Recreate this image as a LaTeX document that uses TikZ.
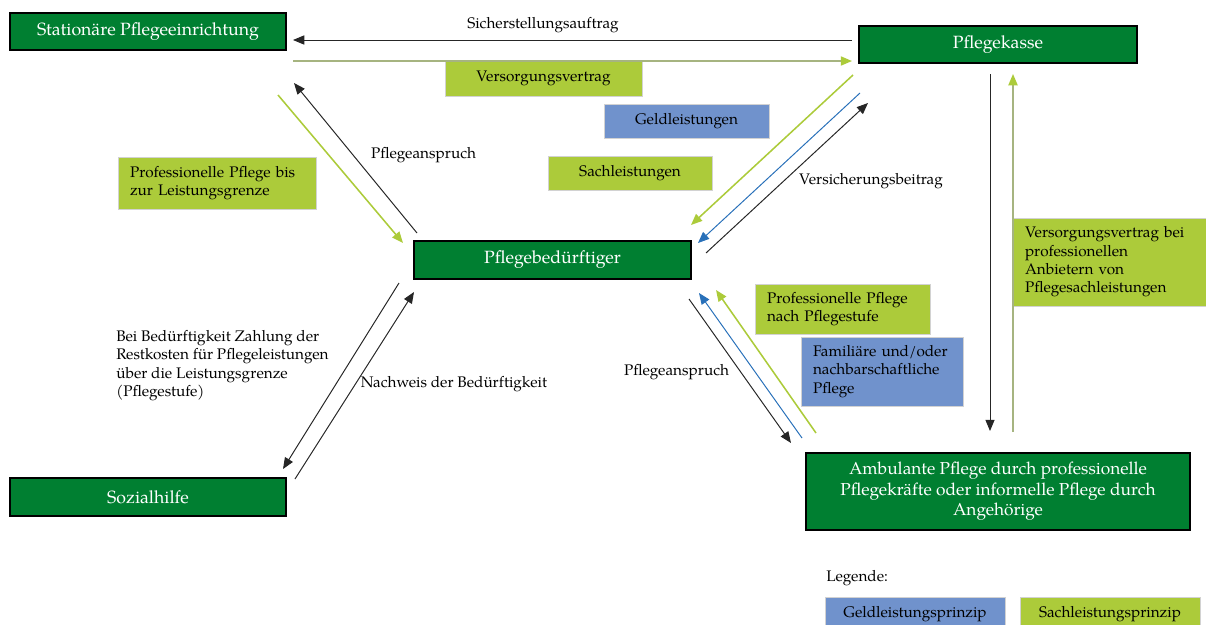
\documentclass[tikz,border=0pt]{standalone}
\usepackage{fontspec}
\setmainfont{TeX Gyre Pagella}
\usetikzlibrary{arrows.meta}

\definecolor{dunkelgruen}{RGB}{0,127,49}
\definecolor{hellgruen}{RGB}{172,203,58}
\definecolor{taubenblau}{RGB}{112,146,204}
\definecolor{linienblau}{RGB}{40,112,185}
\definecolor{olivgrau}{RGB}{166,180,128}

\begin{document}
\begin{tikzpicture}[
  x=0.025cm,
  y=-0.025cm,
  spitze/.tip={Triangle[length=8pt,width=6.5pt]},
  haupt/.style 2 args={
    draw=black,
    line width=1.3pt,
    fill=dunkelgruen,
    text=white,
    inner sep=0pt,
    align=center,
    font=\fontsize{12.6}{14.5}\selectfont,
    minimum width=#1*0.025cm,
    minimum height=#2*0.025cm
  },
  feld/.style={
    draw=gray!35,
    line width=0.5pt,
    fill=#1,
    inner ysep=0pt,
    font=\fontsize{10.9}{13}\selectfont
  },
  mitte/.style 2 args={
    inner xsep=0pt,
    align=center,
    minimum width=#1*0.025cm,
    minimum height=#2*0.025cm
  },
  links/.style 2 args={
    inner xsep=0.3cm,
    align=left,
    text width=(#1-24)*0.025cm,
    minimum height=#2*0.025cm
  },
  beschriftung/.style={
    inner sep=0pt,
    font=\fontsize{10.9}{13.2}\selectfont
  },
  pfeil/.style={
    draw=#1,
    line width=0.7pt,
    -{spitze[color=#1]}
  },
  breitpfeil/.style 2 args={
    draw=#1,
    line width=1.1pt,
    -{spitze[color=#2]}
  }
]
  \useasboundingbox (0,0) rectangle (1206,625);

  % Akteure
  \node[haupt={276}{37}] (stat) at (148,31.5) {Stationäre Pflegeeinrichtung};
  \node[haupt={278}{37}] (kasse) at (998,44.5) {Pflegekasse};
  \node[haupt={277}{38}] (beduerftig) at (552.5,260) {Pflegebedürftiger};
  \node[haupt={276}{38}] (sozial) at (148,497) {Sozialhilfe};
  \node[haupt={384}{77}, font=\fontsize{12.3}{14.5}\selectfont] (ambulant) at (998,491.5)
    {Ambulante Pflege durch professionelle\\Pflegekräfte oder informelle Pflege durch\\Angehörige};

  % Leistungsfelder
  \node[feld=hellgruen, mitte={197}{35}] (vv) at (543.5,78.5) {Versorgungsvertrag};
  \node[feld=taubenblau, mitte={165}{34}] (geld) at (686.5,121) {Geldleistungen};
  \node[feld=hellgruen, mitte={164}{34}] (sach) at (630,173) {Sachleistungen};
  \node[feld=hellgruen, links={198}{52}] (profgrenze) at (217,183)
    {Professionelle Pflege bis\\zur Leistungsgrenze};
  \node[feld=hellgruen, links={193}{88}] (vvbei) at (1109.5,262)
    {Versorgungsvertrag bei\\professionellen\\Anbietern von\\Pflegesachleistungen};
  \node[feld=hellgruen, links={175}{50}] (profstufe) at (842.5,309)
    {Professionelle Pflege\\nach Pflegestufe};
  \node[feld=taubenblau, links={162}{69}] (familie) at (882,371.5)
    {Familiäre und/oder\\nachbarschaftliche\\Pflege};

  % Beschriftungen
  \node[beschriftung] (sicher) at (543,25) {Sicherstellungsauftrag};
  \node[beschriftung] (anspruch-o) at (423.5,155) {Pflegeanspruch};
  \node[beschriftung] (beitrag) at (871,181) {Versicherungsbeitrag};
  \node[beschriftung, anchor=west, align=left] (restkosten) at (116,365.5)
    {Bei Bedürftigkeit Zahlung der\\Restkosten für Pflegeleistungen\\über die Leistungsgrenze\\(Pflegestufe)};
  \node[beschriftung] (nachweis) at (454,384) {Nachweis der Bedürftigkeit};
  \node[beschriftung] (anspruch-u) at (676.5,372) {Pflegeanspruch};

  % Legende
  \node[beschriftung, anchor=west] (legende) at (826,578) {Legende:};
  \node[feld=taubenblau, mitte={180}{34}] (leg-geld) at (915,614) {Geldleistungsprinzip};
  \node[feld=hellgruen, mitte={180}{34}] (leg-sach) at (1110,614) {Sachleistungsprinzip};

  % Pfeilenden
  \coordinate (sa-a) at (852,40);   \coordinate (sa-b) at (293,40);
  \coordinate (vv-a) at (293,61);   \coordinate (vv-b) at (852,61);
  \coordinate (ka-a) at (990,74);   \coordinate (ka-b) at (990,431);
  \coordinate (ak-a) at (1013,432); \coordinate (ak-b) at (1013,74);
  \coordinate (bs-a) at (417,233);  \coordinate (bs-b) at (294,83);
  \coordinate (sb-a) at (278,95);   \coordinate (sb-b) at (403,243);
  \coordinate (kb1-a) at (853,75);  \coordinate (kb1-b) at (691,225);
  \coordinate (kb2-a) at (860,93);  \coordinate (kb2-b) at (698,243);
  \coordinate (bk-a) at (706,253);  \coordinate (bk-b) at (868,103);
  \coordinate (bz-a) at (399,283);  \coordinate (bz-b) at (283,469);
  \coordinate (zb-a) at (295,479);  \coordinate (zb-b) at (414,292);
  \coordinate (ba-a) at (689,299);  \coordinate (ba-b) at (791,443);
  \coordinate (ab1-a) at (802,438); \coordinate (ab1-b) at (699,293);
  \coordinate (ab2-a) at (816,433); \coordinate (ab2-b) at (716,290);

  \foreach \p/\farbe in {sa/black!85,ka/black!85,bs/black!85,bk/black!85,
      bz/black!85,zb/black!85,ba/black!85,kb2/linienblau,ab1/linienblau}{
    \draw[pfeil=\farbe] (\p-a) -- (\p-b);
  }
  \foreach \p/\farbe in {vv/olivgrau,ak/olivgrau,sb/hellgruen,kb1/hellgruen,ab2/hellgruen}{
    \draw[breitpfeil={\farbe}{hellgruen}] (\p-a) -- (\p-b);
  }
\end{tikzpicture}
\end{document}
